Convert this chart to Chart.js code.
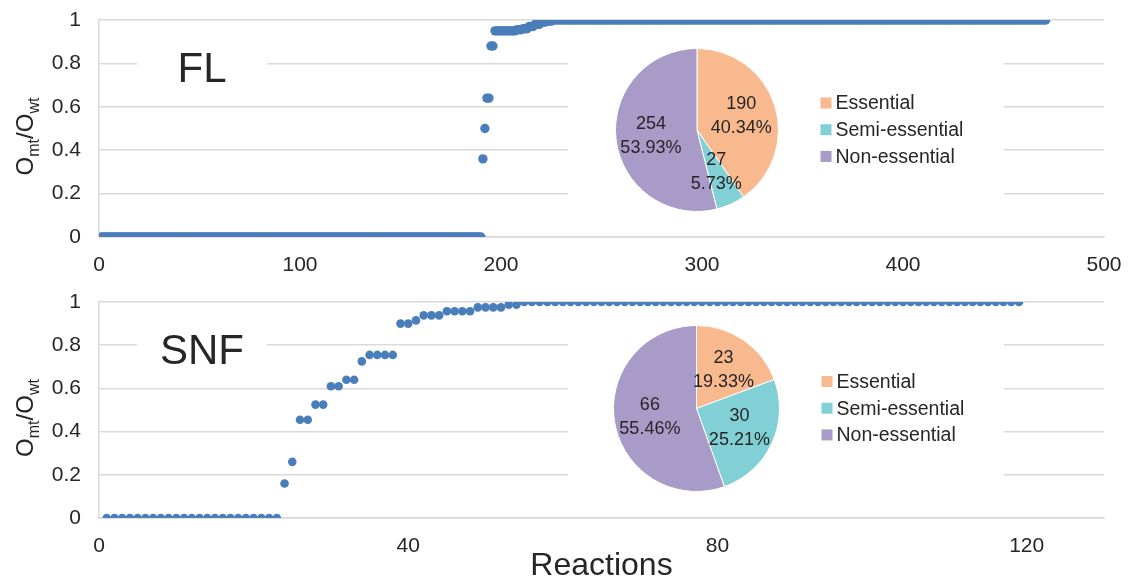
<!DOCTYPE html>
<html>
<head>
<meta charset="utf-8">
<script src="https://cdn.jsdelivr.net/npm/chart.js@4.4.1/dist/chart.umd.min.js"></script>
<style>
  html, body { margin: 0; padding: 0; background: #fff; }
  #wrap { position: relative; width: 1128px; height: 579px; overflow: hidden; }
  canvas { position: absolute; }
  .inset { background: #fff; }
</style>
</head>
<body>
<div id="wrap">
  <canvas id="flChart" width="1128" height="285" style="left:0;top:0"></canvas>
  <canvas id="snfChart" width="1128" height="294" style="left:0;top:285px"></canvas>
  <canvas id="flPie" class="inset" width="436" height="188" style="left:568px;top:38px"></canvas>
  <canvas id="snfPie" class="inset" width="436" height="188" style="left:568px;top:318px"></canvas>
</div>
<script>
// categories of the pies
const categories = ['Essential', 'Semi-essential', 'Non-essential'];
const flCounts = [190, 27, 254];
const snfCounts = [23, 30, 66];

// sorted Omt/Owt ratios, given as level + number of reactions in a row
const flLevels = [0, 0.36, 0.5, 0.64, 0.88, 0.95, 0.955, 0.96, 0.97, 0.98, 0.99, 0.995, 1];
const flRuns   = [190, 1, 1, 2, 2, 11, 3, 3, 3, 3, 3, 3, 246];
const snfLevels = [0, 0.16, 0.26, 0.455, 0.525, 0.61, 0.64, 0.725, 0.755, 0.9, 0.915, 0.938, 0.957, 0.975, 0.987, 1];
const snfRuns   = [23, 1, 1, 2, 2, 2, 2, 1, 4, 2, 1, 3, 4, 4, 2, 65];

// tick labels
const yTicks = [0, 0.2, 0.4, 0.6, 0.8, 1];
const flXTicks = [0, 100, 200, 300, 400, 500];
const snfXTicks = [0, 40, 80, 120];

const FONT = "'Liberation Sans', Arial, sans-serif";
const TEXT = '#262626';
const GRID = '#d9d9d9';
const BLUE = '#4a7ebb';
const pieColors = ['#f9b98e', '#80d0d6', '#a99bc7'];

Chart.defaults.font.family = FONT;

function expandRuns(levels, runs) {
    const pts = [];
    levels.forEach(function(v, i) {
        for (let k = 0; k < runs[i]; k++) {
            pts.push({ x: pts.length + 1, y: v });
        }
    });
    return pts;
}

// "FL" / "SNF" on a white patch over the 0.8 gridline
const panelLabelPlugin = {
    id: 'panelLabel',
    beforeDatasetsDraw(chart, args, opts) {
        const ctx = chart.ctx;
        const y = chart.scales.y.getPixelForValue(0.8);
        ctx.save();
        ctx.fillStyle = '#fff';
        ctx.fillRect(opts.left, y - 20, opts.right - opts.left, 40);
        ctx.font = '42px ' + FONT;
        ctx.fillStyle = TEXT;
        ctx.textAlign = 'center';
        ctx.textBaseline = 'alphabetic';
        ctx.fillText(opts.text, (opts.left + opts.right) / 2, y + 19);
        ctx.restore();
    }
};

// y title with subscripts: O_mt / O_wt
const yTitlePlugin = {
    id: 'yTitle',
    afterDraw(chart) {
        const area = chart.chartArea;
        const ctx = chart.ctx;
        const big = '24px ' + FONT;
        const small = '16px ' + FONT;
        const parts = [['O', big, 0], ['mt', small, 6], ['/O', big, 0], ['wt', small, 6]];
        ctx.save();
        let total = 0;
        parts.forEach(p => { ctx.font = p[1]; total += ctx.measureText(p[0]).width; });
        ctx.translate(33, (area.top + area.bottom) / 2 + 8);
        ctx.rotate(-Math.PI / 2);
        ctx.fillStyle = TEXT;
        ctx.textBaseline = 'alphabetic';
        let x = -total / 2;
        parts.forEach(p => {
            ctx.font = p[1];
            ctx.fillText(p[0], x, p[2]);
            x += ctx.measureText(p[0]).width;
        });
        ctx.restore();
    }
};

// count + percentage inside each slice
const pieLabelPlugin = {
    id: 'pieLabels',
    afterDatasetsDraw(chart) {
        const ctx = chart.ctx;
        const data = chart.data.datasets[0].data;
        const total = data.reduce((a, b) => a + b, 0);
        const meta = chart.getDatasetMeta(0);
        ctx.save();
        ctx.font = '18px ' + FONT;
        ctx.fillStyle = TEXT;
        ctx.textAlign = 'center';
        ctx.textBaseline = 'middle';
        meta.data.forEach(function(arc, i) {
            const p = arc.getProps(['x', 'y', 'startAngle', 'endAngle', 'outerRadius'], true);
            const mid = (p.startAngle + p.endAngle) / 2;
            const r = p.outerRadius * 0.57;
            const cx = p.x + Math.cos(mid) * r;
            const cy = p.y + Math.sin(mid) * r;
            ctx.fillText(String(data[i]), cx, cy - 12);
            ctx.fillText((data[i] / total * 100).toFixed(2) + '%', cx, cy + 12);
        });
        ctx.restore();
    }
};

// legend to the right of the pie
const pieLegendPlugin = {
    id: 'pieLegend',
    afterDraw(chart) {
        const arc = chart.getDatasetMeta(0).data[0];
        const ctx = chart.ctx;
        const colors = chart.data.datasets[0].backgroundColor;
        const x0 = arc.x + arc.outerRadius + 42;
        ctx.save();
        ctx.font = '19.5px ' + FONT;
        ctx.textBaseline = 'middle';
        chart.data.labels.forEach(function(lab, i) {
            const y = arc.y - 27 + i * 26.7;
            ctx.fillStyle = colors[i];
            ctx.fillRect(x0, y - 5.5, 11, 11);
            ctx.fillStyle = TEXT;
            ctx.fillText(lab, x0 + 15, y + 1);
        });
        ctx.restore();
    }
};

function fmt(v) {
    return String(+v.toFixed(2));
}

function makeScatter(id, points, cfg) {
    return new Chart(document.getElementById(id), {
        type: 'scatter',
        data: {
            datasets: [{
                data: points,
                backgroundColor: BLUE,
                borderColor: BLUE,
                pointRadius: cfg.radius,
                pointHoverRadius: cfg.radius,
                pointBorderWidth: 0
            }]
        },
        options: {
            responsive: false,
            animation: false,
            layout: { padding: { left: 0, right: 24, top: cfg.top, bottom: 0 } },
            plugins: {
                legend: { display: false },
                tooltip: { enabled: false },
                panelLabel: { text: cfg.label, left: 137, right: 267 }
            },
            scales: {
                x: {
                    type: 'linear',
                    min: 0,
                    max: cfg.xMax,
                    afterBuildTicks: s => { s.ticks = cfg.xTicks.map(v => ({ value: v })); },
                    afterFit: s => {
                        s.height = cfg.xHeight;
                        s.paddingLeft = 0;
                        s.paddingRight = 0;
                    },
                    grid: { display: false, drawTicks: false },
                    border: { display: true, color: GRID, width: 1.5 },
                    ticks: { padding: 16, color: TEXT, font: { size: 21 }, maxRotation: 0, callback: fmt },
                    title: {
                        display: !!cfg.xTitle,
                        text: cfg.xTitle || '',
                        color: TEXT,
                        font: { size: 32, lineHeight: 1 },
                        padding: { top: 0, bottom: -3 }
                    }
                },
                y: {
                    min: 0,
                    max: 1,
                    afterBuildTicks: s => { s.ticks = yTicks.map(v => ({ value: v })); },
                    afterFit: s => {
                        s.width = 99;
                        s.paddingTop = 0;
                        s.paddingBottom = 0;
                    },
                    grid: { color: GRID, lineWidth: 1.5, drawTicks: false },
                    border: { color: GRID, width: 1.5 },
                    ticks: { padding: 18, color: TEXT, font: { size: 21 }, callback: fmt }
                }
            }
        },
        plugins: [panelLabelPlugin, yTitlePlugin]
    });
}

function makePie(id, counts, pad) {
    return new Chart(document.getElementById(id), {
        type: 'pie',
        data: {
            labels: categories,
            datasets: [{ data: counts, backgroundColor: pieColors, borderColor: '#fff', borderWidth: 1 }]
        },
        options: {
            responsive: false,
            animation: false,
            layout: { padding: pad },
            plugins: { legend: { display: false }, tooltip: { enabled: false } }
        },
        plugins: [pieLabelPlugin, pieLegendPlugin]
    });
}

makeScatter('flChart', expandRuns(flLevels, flRuns), {
    label: 'FL', radius: 4.7, top: 20, xHeight: 48, xMax: 500, xTicks: flXTicks
});
makeScatter('snfChart', expandRuns(snfLevels, snfRuns), {
    label: 'SNF', radius: 4.3, top: 17, xHeight: 61, xMax: 130, xTicks: snfXTicks, xTitle: 'Reactions'
});
makePie('flPie', flCounts, { left: 47, top: 10, right: 225, bottom: 14 });
makePie('snfPie', snfCounts, { left: 45, top: 7, right: 224, bottom: 14 });
</script>
</body>
</html>
